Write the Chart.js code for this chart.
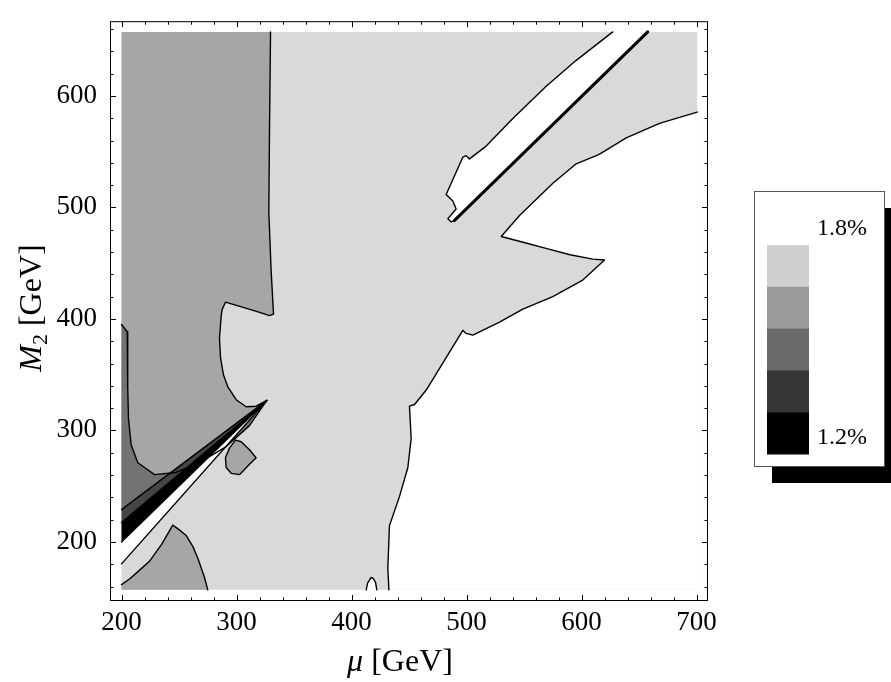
<!DOCTYPE html>
<html>
<head>
<meta charset="utf-8">
<script src="https://cdn.jsdelivr.net/npm/chart.js@4.4.0/dist/chart.umd.min.js"></script>
<style>
  html, body { margin: 0; padding: 0; background: #fff; }
  #wrap { width: 891px; height: 682px; position: relative; }
</style>
</head>
<body>
<div id="wrap"><canvas id="contourChart"></canvas></div>
<script>
// tick values on the two axes
const muTicks = [200, 300, 400, 500, 600, 700];
const m2Ticks = [200, 300, 400, 500, 600];

// colour bar
const legendColors = ['#cfcfcf', '#9b9b9b', '#6a6a6a', '#363636', '#000000'];
const legendLabels = ['1.8%', '1.2%'];

// scanned region in (mu, M2)
const scanBox = [[200, 157], [200, 657.4], [700.6, 657.4], [700.6, 157], [200, 157]];

// boundary of the mid-grey region on the left (top edge down to the wedge tip)
const midEdge = [[329.6, 657.4], [328.7, 569.6], [328.1, 495.7], [330.1, 443.5], [332.2, 404.3],
  [328.7, 402.9], [318, 406.5], [305, 410.5], [290.4, 415], [287.5, 408.5], [286.7, 402.9],
  [285.2, 382.6], [286.1, 365.2], [288.7, 349.6], [292.5, 339.1], [299.7, 327.5],
  [308.4, 321.2], [317.1, 321.7], [326.4, 326.9]];

// U-shaped curve of the dark strip along mu = 200
const darkEdge = [[200, 395], [205, 388.5], [205.5, 372], [205.2, 360], [205.5, 339],
  [206.1, 310.1], [208.4, 287], [214.2, 271], [228.7, 260.3], [247.5, 262.3], [267.8, 271],
  [291, 285.5], [311.3, 304.3], [322.9, 321.7], [326.4, 326.9]];

// wedge lines meeting at the tip
const wedgeTip = [326.4, 326.9];
const wedgeStarts = [229, 217.4, 200, 180.3];

// mid-grey hill at the bottom left
const hillEdge = [[200, 161.7], [207, 166.7], [215, 174], [224.3, 182.6], [235, 198],
  [244.6, 215.1], [250, 211], [256.2, 205.8], [262, 196], [266.3, 185.5], [272.2, 168.1], [275, 157]];

// small mid-grey island
const islandEdge = [[299.1, 291.3], [304.1, 289.8], [311.3, 282.6], [317.1, 275.4], [311.3, 269.6],
  [302.6, 260.3], [295.4, 261.5], [291, 266.7], [290.4, 275.4], [293.9, 284.1], [299.1, 291.3]];

// lower right boundary of the light region
const lowerRightEdge = [[432.5, 157], [431.6, 176.8], [433, 214.5], [441.7, 240.6], [449, 266.7],
  [451.9, 292.8], [450.4, 321.7], [454.8, 323.2], [465, 336.2], [482.3, 365.2], [496.8, 389.8],
  [499.7, 387], [505.5, 385.5], [528.7, 397.1], [549, 408.7], [575, 420], [601.1, 434.8],
  [620, 452.8], [609.9, 453.6], [590, 457.5], [570, 463], [550, 468.5], [530.2, 473.9],
  [546.1, 492.8], [575.1, 521.7], [595.4, 539.1], [612.8, 546.4], [615.7, 547.8],
  [638.9, 562.3], [667.8, 575.4], [700.6, 585.5]];

// upper white band: curved left side, straight side along mu = M2
const bandEdge = [[627.2, 657.4], [595.4, 631.9], [569.3, 608.7], [540.3, 579.7], [517.1, 555],
  [502.6, 543.5], [499.7, 546.4], [496.8, 545], [482.3, 511.6], [488.1, 505.8], [491, 498.6],
  [483.8, 489.9], [486.7, 487], [489.6, 488.4]];
const bandLine = [[489.6, 488.4], [657.6, 657.4]];

// tiny loop near the bottom edge
const speckEdge = [[412.8, 157], [414, 163], [417.1, 168.1], [419, 167], [420.9, 163.8], [422, 157]];

const LIGHT = '#d9d9d9', MID = '#a6a6a6', DARK = '#737373', DARKER = '#454545', BLACK = '#000000', WHITE = '#ffffff';

const pts = a => a.map(p => ({ x: p[0], y: p[1] }));

function area(points, color) {
  return {
    data: pts(points), fill: 'shape', backgroundColor: color,
    borderColor: 'rgba(0,0,0,0)', borderWidth: 0, pointRadius: 0, tension: 0
  };
}

function contour(points, width) {
  return {
    data: pts(points), fill: false, borderColor: '#000', borderWidth: width || 1.4,
    pointRadius: 0, tension: 0, borderJoinStyle: 'round', borderCapStyle: 'round'
  };
}

const wedge = (a, b) => [wedgeTip, [200, a], [200, b], wedgeTip];

const layers = [
  area(scanBox, LIGHT),
  area([...lowerRightEdge, [700.6, 157], [432.5, 157]], WHITE),
  area([...bandEdge, ...bandLine, [627.2, 657.4]], WHITE),
  area([...speckEdge, [412.8, 157]], WHITE),
  area([[200, 657.4], ...midEdge, [200, wedgeStarts[0]], [200, 657.4]], MID),
  area([...darkEdge, [200, wedgeStarts[0]], [200, 395]], DARK),
  area(wedge(wedgeStarts[0], wedgeStarts[1]), DARKER),
  area(wedge(wedgeStarts[1], wedgeStarts[2]), BLACK),
  area(wedge(wedgeStarts[2], wedgeStarts[3]), WHITE),
  area([[200, 157], ...hillEdge, [200, 157]], MID),
  area(islandEdge, MID),
  contour(midEdge),
  contour(darkEdge),
  ...wedgeStarts.map(s => contour([[200, s], wedgeTip])),
  contour(hillEdge),
  contour(islandEdge),
  contour(lowerRightEdge),
  contour(bandEdge),
  contour(bandLine, 3),
  contour(speckEdge)
];
// first dataset goes to the bottom of the stack
layers.forEach((d, i) => { d.order = layers.length - i; });

const SERIF = '"Liberation Serif", "DejaVu Serif", serif';

function richText(ctx, parts) {
  let total = 0;
  parts.forEach(p => { ctx.font = p.font; p.w = ctx.measureText(p.text).width; total += p.w; });
  let x = -total / 2;
  parts.forEach(p => { ctx.font = p.font; ctx.fillText(p.text, x, p.dy || 0); x += p.w; });
}

// frame with ticks on all four sides
const framePlugin = {
  id: 'frame',
  afterDraw(chart) {
    const { ctx, chartArea: a, scales: { x, y } } = chart;
    ctx.save();
    ctx.strokeStyle = '#000';
    ctx.lineWidth = 1;
    ctx.strokeRect(a.left + 0.5, a.top + 0.5, a.right - a.left - 1, a.bottom - a.top - 1);
    ctx.beginPath();
    for (let v = 200; v <= 700; v += 20) {
      const len = v % 100 === 0 ? 6 : 3.5;
      const px = Math.round(x.getPixelForValue(v)) + 0.5;
      ctx.moveTo(px, a.bottom); ctx.lineTo(px, a.bottom - len);
      ctx.moveTo(px, a.top); ctx.lineTo(px, a.top + len);
    }
    for (let v = 160; v <= 660; v += 20) {
      const len = v % 100 === 0 ? 6 : 3.5;
      const py = Math.round(y.getPixelForValue(v)) + 0.5;
      ctx.moveTo(a.left, py); ctx.lineTo(a.left + len, py);
      ctx.moveTo(a.right, py); ctx.lineTo(a.right - len, py);
    }
    ctx.stroke();

    // axis titles
    ctx.fillStyle = '#000';
    ctx.textBaseline = 'alphabetic';
    ctx.save();
    ctx.translate(400, 671);
    richText(ctx, [
      { text: 'μ', font: 'italic 32px ' + SERIF },
      { text: ' [GeV]', font: '32px ' + SERIF }
    ]);
    ctx.restore();
    ctx.save();
    ctx.translate(41, 308);
    ctx.rotate(-Math.PI / 2);
    richText(ctx, [
      { text: 'M', font: 'italic 32px ' + SERIF },
      { text: '2', font: '22px ' + SERIF, dy: 6 },
      { text: ' [GeV]', font: '32px ' + SERIF }
    ]);
    ctx.restore();
    ctx.restore();
  }
};

// colour bar box with drop shadow
const barPlugin = {
  id: 'colourBar',
  afterDraw(chart) {
    const ctx = chart.ctx;
    const bx = 754, by = 191, bw = 130, bh = 275;
    ctx.save();
    ctx.fillStyle = '#000';
    ctx.fillRect(bx + 18, by + 17, bw, bh);
    ctx.fillStyle = '#fff';
    ctx.fillRect(bx, by, bw, bh);
    ctx.strokeStyle = '#555';
    ctx.lineWidth = 1;
    ctx.strokeRect(bx + 0.5, by + 0.5, bw, bh);
    const sh = 209 / legendColors.length;
    legendColors.forEach((c, i) => {
      ctx.fillStyle = c;
      ctx.fillRect(767, 245 + i * sh, 42, sh + 0.5);
    });
    ctx.fillStyle = '#000';
    ctx.font = '24px ' + SERIF;
    ctx.textAlign = 'left';
    ctx.textBaseline = 'middle';
    ctx.fillText(legendLabels[0], 817, 229);
    ctx.fillText(legendLabels[1], 817, 438);
    ctx.restore();
  }
};

const tickFont = { family: SERIF, size: 27 };

new Chart(document.getElementById('contourChart'), {
  type: 'line',
  data: { datasets: layers },
  options: {
    responsive: true,
    maintainAspectRatio: false,
    animation: false,
    events: [],
    layout: { padding: { left: 0, top: 3, right: 183, bottom: 0 } },
    plugins: { legend: { display: false }, tooltip: { enabled: false } },
    scales: {
      x: {
        type: 'linear', min: 190, max: 710,
        grid: { display: false }, border: { display: false },
        ticks: { font: tickFont, color: '#000', padding: -2, maxRotation: 0 },
        afterBuildTicks: s => { s.ticks = muTicks.map(v => ({ value: v })); },
        afterFit: s => { s.height = 81; }
      },
      y: {
        type: 'linear', min: 147, max: 667,
        grid: { display: false }, border: { display: false },
        ticks: { font: tickFont, color: '#000', padding: 5 },
        afterBuildTicks: s => { s.ticks = m2Ticks.map(v => ({ value: v })); },
        afterFit: s => { s.width = 110; }
      }
    }
  },
  plugins: [framePlugin, barPlugin]
});
</script>
</body>
</html>
